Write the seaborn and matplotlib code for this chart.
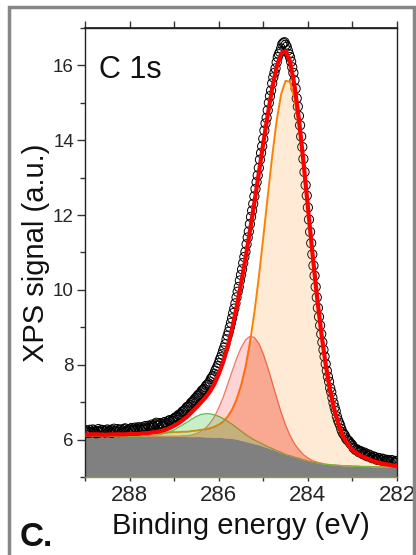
import numpy as np
import pandas as pd
import matplotlib
matplotlib.use("Agg")
import matplotlib.pyplot as plt
import seaborn as sns
from matplotlib.patches import Rectangle
from matplotlib.ticker import MultipleLocator

# ---------------- data ----------------
# fit grid: 289.0 -> 282.0 eV, 0.1 eV step
fit_energy = np.round(np.linspace(289.0, 282.0, 71), 2)

background = [6.10, 6.10, 6.10, 6.10, 6.09, 6.09, 6.09, 6.09, 6.09, 6.09,
              6.09, 6.09, 6.09, 6.09, 6.09, 6.09, 6.09, 6.09, 6.09, 6.09,
              6.09, 6.09, 6.09, 6.08, 6.08, 6.08, 6.08, 6.07, 6.07, 6.06,
              6.06, 6.05, 6.04, 6.03, 6.01, 5.98, 5.95, 5.92, 5.89, 5.86,
              5.82, 5.78, 5.74, 5.69, 5.65, 5.60, 5.57, 5.53, 5.50, 5.46,
              5.43, 5.40, 5.38, 5.36, 5.34, 5.33, 5.32, 5.31, 5.30, 5.30,
              5.29, 5.29, 5.28, 5.28, 5.28, 5.27, 5.27, 5.27, 5.27, 5.27,
              5.27]

peak_cc = [0.03, 0.04, 0.04, 0.04, 0.04, 0.04, 0.05, 0.05, 0.05, 0.05,
           0.06, 0.06, 0.06, 0.07, 0.07, 0.08, 0.08, 0.09, 0.09, 0.10,
           0.11, 0.11, 0.12, 0.13, 0.15, 0.16, 0.18, 0.20, 0.23, 0.28,
           0.34, 0.43, 0.57, 0.77, 1.06, 1.46, 1.98, 2.67, 3.50, 4.48,
           5.58, 6.72, 7.84, 8.83, 9.58, 9.99, 9.99, 9.58, 8.83, 7.84,
           6.72, 5.58, 4.48, 3.50, 2.67, 1.98, 1.46, 1.06, 0.77, 0.57,
           0.43, 0.34, 0.28, 0.23, 0.18, 0.14, 0.11, 0.08, 0.06, 0.04,
           0.02]

peak_co = [0.00, 0.00, 0.00, 0.00, 0.00, 0.00, 0.00, 0.00, 0.00, 0.00,
           0.00, 0.00, 0.00, 0.00, 0.00, 0.00, 0.00, 0.00, 0.00, 0.00,
           0.00, 0.00, 0.01, 0.02, 0.04, 0.08, 0.14, 0.23, 0.36, 0.54,
           0.79, 1.08, 1.43, 1.79, 2.15, 2.47, 2.71, 2.84, 2.84, 2.71,
           2.47, 2.15, 1.79, 1.43, 1.08, 0.79, 0.54, 0.36, 0.23, 0.14,
           0.08, 0.04, 0.02, 0.01, 0.00, 0.00, 0.00, 0.00, 0.00, 0.00,
           0.00, 0.00, 0.00, 0.00, 0.00, 0.00, 0.00, 0.00, 0.00, 0.00,
           0.00]

peak_coo = [0.00, 0.00, 0.00, 0.00, 0.00, 0.00, 0.00, 0.00, 0.00, 0.00,
            0.00, 0.00, 0.00, 0.01, 0.01, 0.02, 0.03, 0.05, 0.08, 0.12,
            0.17, 0.24, 0.31, 0.39, 0.47, 0.54, 0.59, 0.62, 0.62, 0.60,
            0.56, 0.51, 0.45, 0.38, 0.31, 0.25, 0.19, 0.14, 0.10, 0.07,
            0.05, 0.03, 0.02, 0.01, 0.01, 0.00, 0.00, 0.00, 0.00, 0.00,
            0.00, 0.00, 0.00, 0.00, 0.00, 0.00, 0.00, 0.00, 0.00, 0.00,
            0.00, 0.00, 0.00, 0.00, 0.00, 0.00, 0.00, 0.00, 0.00, 0.00,
            0.00]

# measured points, 289.000 -> 282.000 eV at 0.05 eV ...
energy_a = np.round(np.linspace(289.0, 282.0, 141), 3)
signal_a = [6.22, 6.18, 6.26, 6.20, 6.24, 6.17, 6.28, 6.21, 6.25, 6.19,
            6.27, 6.22, 6.18, 6.29, 6.23, 6.20, 6.27, 6.24, 6.30, 6.21,
            6.26, 6.31, 6.24, 6.28, 6.33, 6.25, 6.30, 6.36, 6.29, 6.34,
            6.40, 6.33, 6.45, 6.38, 6.42, 6.40, 6.47, 6.44, 6.52, 6.50,
            6.56, 6.60, 6.66, 6.68, 6.76, 6.80, 6.88, 6.92, 7.00, 7.06,
            7.12, 7.20, 7.26, 7.33, 7.40, 7.47, 7.55, 7.66, 7.76, 7.90,
            8.04, 8.20, 8.38, 8.55, 8.78, 9.00, 9.24, 9.50, 9.80, 10.08,
            10.40, 10.72, 11.02, 11.40, 11.76, 12.12, 12.50, 12.88, 13.26, 13.66,
            14.04, 14.45, 14.80, 15.18, 15.52, 15.80, 16.08, 16.30, 16.45, 16.60,
            16.55, 16.40, 16.22, 15.95, 15.60, 15.12, 14.65, 14.10, 13.50, 12.80,
            12.20, 11.55, 10.95, 10.38, 9.80, 9.28, 8.82, 8.40, 8.02, 7.68,
            7.38, 7.12, 6.86, 6.62, 6.45, 6.28, 6.15, 6.05, 5.98, 5.90,
            5.84, 5.76, 5.74, 5.66, 5.68, 5.60, 5.62, 5.55, 5.57, 5.50,
            5.53, 5.46, 5.50, 5.44, 5.47, 5.41, 5.45, 5.40, 5.44, 5.38,
            5.42]
# ... and the points in between, 288.975 -> 282.025 eV
energy_b = np.round(np.linspace(288.975, 282.025, 140), 3)
signal_b = [6.25, 6.21, 6.19, 6.27, 6.20, 6.23, 6.19, 6.26, 6.22, 6.24,
            6.20, 6.26, 6.24, 6.21, 6.28, 6.25, 6.21, 6.28, 6.23, 6.27,
            6.29, 6.26, 6.32, 6.26, 6.29, 6.33, 6.27, 6.32, 6.37, 6.31,
            6.36, 6.41, 6.37, 6.44, 6.36, 6.46, 6.42, 6.50, 6.46, 6.54,
            6.59, 6.62, 6.66, 6.73, 6.77, 6.85, 6.89, 6.97, 7.02, 7.10,
            7.17, 7.22, 7.31, 7.35, 7.45, 7.50, 7.62, 7.70, 7.84, 7.96,
            8.13, 8.28, 8.46, 8.68, 8.88, 9.12, 9.38, 9.64, 9.95, 10.25,
            10.55, 10.88, 11.22, 11.56, 11.95, 12.30, 12.70, 13.06, 13.48, 13.84,
            14.26, 14.60, 15.00, 15.33, 15.68, 15.92, 16.22, 16.36, 16.56, 16.62,
            16.50, 16.30, 16.10, 15.80, 15.38, 14.90, 14.40, 13.82, 13.15, 12.52,
            11.88, 11.25, 10.65, 10.08, 9.52, 9.05, 8.60, 8.22, 7.84, 7.55,
            7.27, 6.98, 6.76, 6.52, 6.38, 6.20, 6.12, 6.00, 5.95, 5.88,
            5.78, 5.72, 5.70, 5.69, 5.62, 5.65, 5.56, 5.60, 5.52, 5.55,
            5.48, 5.51, 5.45, 5.49, 5.43, 5.46, 5.42, 5.45, 5.39, 5.43]

x_major = [288, 286, 284, 282]
y_major = [6, 8, 10, 12, 14, 16]

# ---------------- build tables ----------------
fit = pd.DataFrame({"E": fit_energy, "bg": background,
                    "cc": peak_cc, "co": peak_co, "coo": peak_coo})
fit["cc_abs"] = fit["bg"] + fit["cc"]
fit["co_abs"] = fit["bg"] + fit["co"]
fit["coo_abs"] = fit["bg"] + fit["coo"]
fit["total"] = fit["bg"] + fit["cc"] + fit["co"] + fit["coo"]
fit["overlap"] = fit["bg"] + np.minimum(fit["cc"], fit["co"])
meas = pd.concat([pd.DataFrame({"E": energy_a, "S": signal_a}),
                  pd.DataFrame({"E": energy_b, "S": signal_b})],
                 ignore_index=True).sort_values("E")

# ---------------- figure ----------------
sns.set_theme(style="ticks")
plt.rcParams["font.family"] = ["Liberation Sans", "DejaVu Sans"]
plt.rcParams["text.color"] = "#111111"
plt.rcParams["axes.labelcolor"] = "#111111"

W, H = 416, 555
fig = plt.figure(figsize=(W / 100, H / 100), dpi=100)
ax = fig.add_axes([85 / W, 78 / H, 312 / W, 449 / H])

# background (opaque grey)
ax.fill_between(fit["E"], 5.0, fit["bg"], color="#808080", lw=0, zorder=1)

# measured data
sns.scatterplot(data=meas, x="E", y="S", ax=ax, marker="o", s=44,
                facecolor="none", edgecolor="black", linewidth=0.7,
                zorder=2, legend=False)

# component lines
sns.lineplot(data=fit, x="E", y="cc_abs", ax=ax, color="#FF8000", lw=1.4,
             estimator=None, zorder=3)
sns.lineplot(data=fit, x="E", y="co_abs", ax=ax, color="#F57060", lw=0.9,
             estimator=None, zorder=3)
sns.lineplot(data=fit, x="E", y="coo_abs", ax=ax, color="#55C040", lw=0.9,
             estimator=None, zorder=3)

# component fills (translucent)
ax.fill_between(fit["E"], fit["bg"], fit["co_abs"], color="#FF2A2A",
                alpha=0.2, lw=0, zorder=3.5)
ax.fill_between(fit["E"], fit["bg"], fit["cc_abs"], color="#FF8C1A",
                alpha=0.18, lw=0, zorder=3.6)
ax.fill_between(fit["E"], fit["bg"], fit["overlap"], color="#E8482E",
                alpha=0.24, lw=0, zorder=3.7)
ax.fill_between(fit["E"], fit["bg"], fit["coo_abs"], color="#3CC83C",
                alpha=0.28, lw=0, zorder=3.8)

# envelope
sns.lineplot(data=fit, x="E", y="total", ax=ax, color="#FF0000", lw=3.0,
             estimator=None, zorder=5)

# axes
ax.set_xlim(289, 282)
ax.set_ylim(5, 17)
ax.set_xticks(x_major)
ax.set_xticklabels([str(v) for v in x_major])
ax.xaxis.set_minor_locator(MultipleLocator(1))
ax.set_yticks(y_major)
ax.set_yticklabels([str(v) for v in y_major])
ax.yaxis.set_minor_locator(MultipleLocator(1))
ax.tick_params(axis="x", which="both", direction="out", length=3, width=1,
               color="#333333", labelsize=16, pad=3, top=False, bottom=True)
ax.tick_params(axis="y", which="major", direction="out", length=6, width=1,
               color="#333333", labelsize=13.5, pad=2, left=True, right=False)
ax.tick_params(axis="y", which="minor", direction="out", length=3.6, width=1,
               color="#333333", left=True, right=False)
for side in ["left", "top", "right"]:
    ax.spines[side].set_color("#222222")
    ax.spines[side].set_linewidth(1.0)
    ax.spines[side].set_visible(True)
ax.spines["bottom"].set_color("#8f9a3c")
ax.spines["bottom"].set_linewidth(1.0)

top = ax.secondary_xaxis("top")
top.set_xticks(list(range(282, 290)))
top.tick_params(axis="x", direction="out", length=5, width=1,
                color="#333333", labeltop=False)
top.spines["top"].set_color("#222222")

ax.set_xlabel("Binding energy (eV)", fontsize=21, labelpad=4)
ax.set_ylabel("XPS signal (a.u.)", fontsize=21, labelpad=2)
ax.set_facecolor("white")

ax.text(0.045, 0.889, "C 1s", transform=ax.transAxes, fontsize=22,
        va="baseline", ha="left", zorder=6)
fig.text(20 / W, 9 / H, "C.", fontsize=24, fontweight="bold",
         va="baseline", ha="left")

# panel frame (grey border of the cropped figure panel)
fig.patches.append(Rectangle((8.5 / W, -0.05), 405 / W, (548 / H) + 0.05,
                             transform=fig.transFigure, fill=False,
                             edgecolor="#878787", linewidth=2.5,
                             zorder=0))

fig.savefig("out.png", dpi=100)
